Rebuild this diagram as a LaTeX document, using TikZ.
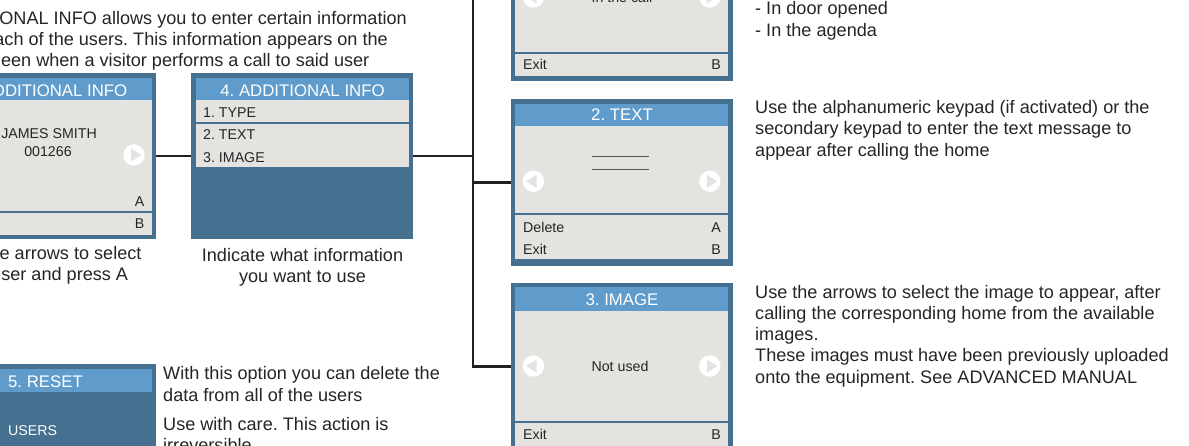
\documentclass[tikz,border=0pt]{standalone}
\usepackage{fontspec}
\setmainfont{Liberation Sans}
\frenchspacing
\definecolor{frameblue}{HTML}{46708F}
\definecolor{titleblue}{HTML}{5F9BCB}
\definecolor{scrgray}{HTML}{E4E3DF}
\definecolor{ink}{HTML}{262425}
\definecolor{wirecol}{HTML}{231F20}
\definecolor{dashgray}{HTML}{555555}
\newcommand\scrarrowR[2]{\fill[white] (#1,#2) circle[radius=10.7pt]; \fill[scrgray] (#1-3,#2-6.5) -- (#1+7.5,#2) -- (#1-3,#2+6.5) -- cycle;}
\newcommand\scrarrowL[2]{\fill[white] (#1,#2) circle[radius=10.7pt]; \fill[scrgray] (#1+3,#2-6.5) -- (#1-7.5,#2) -- (#1+3,#2+6.5) -- cycle;}
\begin{document}
\frenchspacing
\begin{tikzpicture}[x=1pt,y=-1pt,
 frame/.style={fill=frameblue, inner sep=0pt, outer sep=0pt, minimum width=222pt},
 sep/.style={draw=frameblue, line width=1.6pt},
 wire/.style={draw=wirecol, line width=2.4pt},
 ttl/.style={text=white, inner sep=0pt, font=\fontsize{16.8}{20}\selectfont\frenchspacing},
 st/.style={text=ink, inner sep=0pt, font=\fontsize{14.2}{17}\selectfont\frenchspacing},
 desc/.style={text=ink, inner sep=0pt, align=left, font=\fontsize{18.1}{21.3}\selectfont\frenchspacing},
 captext/.style={text=ink, inner sep=0pt, align=center, font=\fontsize{18.1}{21}\selectfont\frenchspacing},
]
\useasboundingbox (0,0) rectangle (1189,446);
\clip (0,0) rectangle (1189,446);

% intro text
\node[desc, anchor=base east] (intro1) at (407,24.5) {ONAL INFO allows you to enter certain information};
\node[desc, anchor=base east] (intro2) at (388,45.5) {ach of the users. This information appears on the};
\node[desc, anchor=base east] (intro3) at (369.5,66.5) {een when a visitor performs a call to said user};

% screen 0 (user selection)
\node[frame, minimum height=166pt] (s0) at (45,156) {};
\fill[titleblue] (-62,78) rectangle (152,100);
\fill[scrgray] (-62,100) rectangle (152,235);
\draw[sep] (-62,212) -- (152,212);
\node[ttl, anchor=base east] (s0t) at (127.5,96.7) {DDITIONAL INFO};
\node[st, anchor=base east] (s0n) at (97,139) {JAMES SMITH};
\node[st, anchor=base] (s0c) at (48,157) {001266};
\scrarrowR{134}{155}
\node[st, anchor=base east] (s0a) at (144.5,207) {A};
\node[st, anchor=base east] (s0b) at (144.5,229) {B};
\node[desc, anchor=base east] (cap0a) at (141.7,260) {e arrows to select};
\node[desc, anchor=base east] (cap0b) at (128.3,281) {user and press A};

% screen 4 (menu)
\node[frame, minimum height=166pt] (s4) at (302,156) {};
\fill[titleblue] (196,78) rectangle (409,100);
\fill[scrgray] (196,100) rectangle (409,167);
\draw[sep, line width=1.3pt] (196,123) -- (409,123);
\node[ttl, anchor=base] (s4t) at (302.5,96.7) {4. ADDITIONAL INFO};
\node[st, anchor=base west] (s4i1) at (203,117.3) {1. TYPE};
\node[st, anchor=base west] (s4i2) at (203,140) {2. TEXT};
\node[st, anchor=base west] (s4i3) at (203,162.3) {3. IMAGE};
\node[captext, anchor=north] (cap4) at (302.5,248) {Indicate what information\\you want to use};

% screen 1 (type)
\node[frame, minimum height=167pt] (s1) at (622,-2.5) {};
\fill[scrgray] (515,-82) rectangle (728,76.5);
\draw[sep] (515,53) -- (728,53);
\node[st, anchor=base] (s1v) at (622,2.5) {In the call};
\scrarrowL{533.5}{-3}
\scrarrowR{709.8}{-3}
\node[st, anchor=base west] (s1e) at (523,70) {Exit};
\node[st, anchor=base east] (s1b) at (721,70) {B};
\node[desc, anchor=north west] (d1) at (755,1.6) {- In door opened\\- In the agenda};

% screen 2 (text)
\node[frame, minimum height=167pt] (s2) at (622,182.5) {};
\fill[titleblue] (515,104) rectangle (728,126);
\fill[scrgray] (515,126) rectangle (728,259.5);
\draw[sep] (515,214) -- (728,214);
\node[ttl, anchor=base] (s2t) at (622,120.7) {2. TEXT};
\draw[dashgray, line width=0.9pt] (592,156) -- (649,156) (592,169) -- (649,169);
\scrarrowL{533.5}{181.3}
\scrarrowR{709.8}{181.3}
\node[st, anchor=base west] (s2d) at (523,232.3) {Delete};
\node[st, anchor=base east] (s2a) at (721,232.3) {A};
\node[st, anchor=base west] (s2e) at (523,255) {Exit};
\node[st, anchor=base east] (s2b) at (721,255) {B};
\node[desc, anchor=north west] (d2) at (755,100.1) {Use the alphanumeric keypad (if activated) or the\\secondary keypad to enter the text message to\\appear after calling the home};

% screen 3 (image)
\node[frame, minimum height=167pt] (s3) at (622,366.5) {};
\fill[titleblue] (515,287.5) rectangle (728,311);
\fill[scrgray] (515,311) rectangle (728,445.5);
\draw[sep] (515,422) -- (728,422);
\node[ttl, anchor=base] (s3t) at (622,305.7) {3. IMAGE};
\node[st, anchor=base] (s3v) at (620,371.7) {Not used};
\scrarrowL{533.5}{366}
\scrarrowR{709.8}{366}
\node[st, anchor=base west] (s3e) at (523,439) {Exit};
\node[st, anchor=base east] (s3b) at (721,439) {B};
\node[desc, anchor=north west] (d3) at (755,284.7) {Use the arrows to select the image to appear, after\\calling the corresponding home from the available\\images.\\These images must have been previously uploaded\\onto the equipment. See ADVANCED MANUAL};

% screen 5 (reset)
\node[frame, minimum height=167pt] (s5) at (45,447.5) {};
\fill[titleblue] (-62,369) rectangle (152,392);
\node[ttl, anchor=base] (s5t) at (45.5,387.3) {5. RESET};
\node[st, anchor=base west, text=white] (s5u) at (8,435) {USERS};
\node[desc, anchor=north west] (d5a) at (163,366.5) {With this option you can delete the\\data from all of the users};
\node[desc, anchor=north west] (d5b) at (163,417) {Use with care. This action is\\irreversible};

% connectors
\coordinate (bus) at (473,0);
\draw[wire] (s0.east) -- (s4.west);
\draw[wire] (s4.east) -- (bus |- s4.east);
\draw[wire] (s1.west) -| (bus |- s3.west) -- (s3.west);
\draw[wire] (s2.west) -- (bus |- s2.west);
\end{tikzpicture}
\end{document}
